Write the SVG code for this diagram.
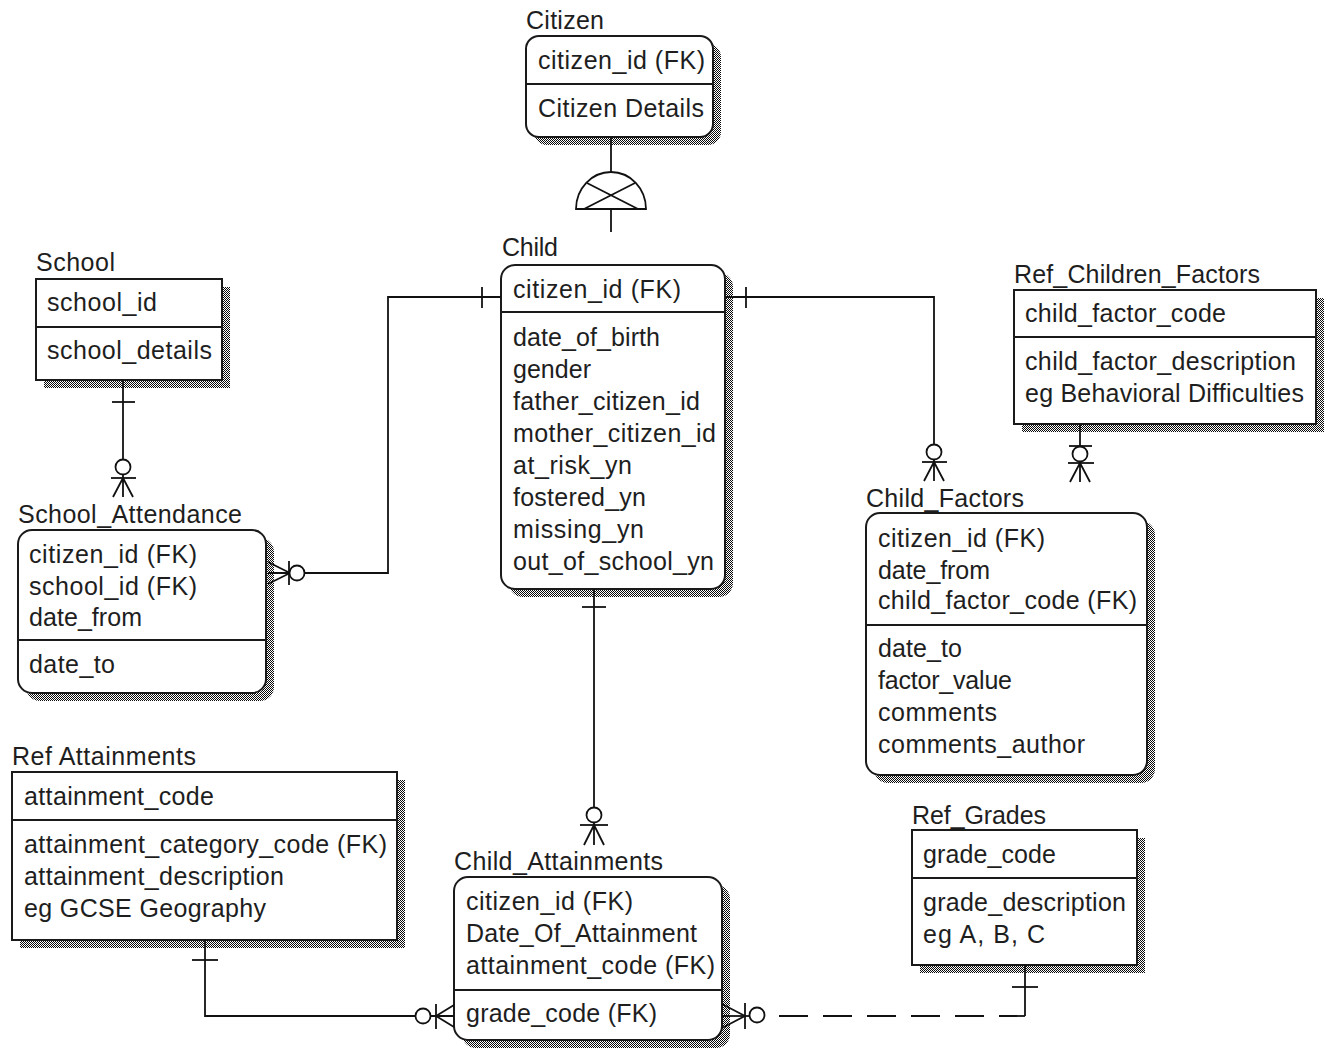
<svg xmlns="http://www.w3.org/2000/svg" width="1329" height="1050" viewBox="0 0 1329 1050">
<defs>
<pattern id="stip" width="2" height="2" patternUnits="userSpaceOnUse">
<rect width="2" height="2" fill="#ffffff"/>
<rect width="1" height="1" fill="#0a0a0a"/>
<rect x="1" y="1" width="1" height="1" fill="#0a0a0a"/>
</pattern>
<style>
.box{fill:#ffffff;stroke:#1a1a1a;stroke-width:2}
.sh{fill:url(#stip)}
.dv{stroke:#1a1a1a;stroke-width:2}
text{font-family:"Liberation Sans",Arial,sans-serif;font-size:25px;fill:#1e1e1e}
.ln{stroke:#111111;stroke-width:1.8;fill:none}
.ci{fill:#ffffff;stroke:#111111;stroke-width:1.8}
</style>
</defs>
<rect width="1329" height="1050" fill="#ffffff"/>

<g id="citizen">
<rect class="sh" x="534" y="44" width="187" height="101" rx="13"/>
<rect class="box" x="526" y="36" width="187" height="101" rx="13"/>
<line class="dv" x1="526" y1="84" x2="713" y2="84"/>
<text x="526" y="29" textLength="78">Citizen</text>
<text x="538" y="69" textLength="167">citizen_id (FK)</text>
<text x="538" y="117" textLength="166">Citizen Details</text>
</g>

<g id="child">
<rect class="sh" x="509" y="273" width="224" height="324" rx="14"/>
<rect class="box" x="501" y="265" width="224" height="324" rx="14"/>
<line class="dv" x1="501" y1="312" x2="725" y2="312"/>
<text x="502" y="256" textLength="56">Child</text>
<text x="513" y="298" textLength="168">citizen_id (FK)</text>
<text x="513" y="346" textLength="147">date_of_birth</text>
<text x="513" y="378" textLength="78">gender</text>
<text x="513" y="410" textLength="187">father_citizen_id</text>
<text x="513" y="442" textLength="203">mother_citizen_id</text>
<text x="513" y="474" textLength="119">at_risk_yn</text>
<text x="513" y="506" textLength="133">fostered_yn</text>
<text x="513" y="538" textLength="131">missing_yn</text>
<text x="513" y="570" textLength="201">out_of_school_yn</text>
</g>

<g id="school">
<rect class="sh" x="44" y="287" width="186" height="101"/>
<rect class="box" x="36" y="279" width="186" height="101"/>
<line class="dv" x1="36" y1="327" x2="222" y2="327"/>
<text x="36" y="271" textLength="79">School</text>
<text x="47" y="311" textLength="110">school_id</text>
<text x="47" y="359" textLength="165">school_details</text>
</g>

<g id="school_attendance">
<rect class="sh" x="26" y="538" width="248" height="163" rx="14"/>
<rect class="box" x="18" y="530" width="248" height="163" rx="14"/>
<line class="dv" x1="18" y1="640" x2="266" y2="640"/>
<text x="18" y="523" textLength="224">School_Attendance</text>
<text x="29" y="563" textLength="168">citizen_id (FK)</text>
<text x="29" y="595" textLength="168">school_id (FK)</text>
<text x="29" y="626" textLength="113">date_from</text>
<text x="29" y="673" textLength="86">date_to</text>
</g>

<g id="ref_children_factors">
<rect class="sh" x="1022" y="298" width="302" height="134"/>
<rect class="box" x="1014" y="290" width="302" height="134"/>
<line class="dv" x1="1014" y1="337" x2="1316" y2="337"/>
<text x="1014" y="283" textLength="246">Ref_Children_Factors</text>
<text x="1025" y="322" textLength="201">child_factor_code</text>
<text x="1025" y="370" textLength="271">child_factor_description</text>
<text x="1025" y="402" textLength="279">eg Behavioral Difficulties</text>
</g>

<g id="child_factors">
<rect class="sh" x="874" y="521" width="281" height="262" rx="14"/>
<rect class="box" x="866" y="513" width="281" height="262" rx="14"/>
<line class="dv" x1="866" y1="625" x2="1147" y2="625"/>
<text x="866" y="507" textLength="158">Child_Factors</text>
<text x="878" y="547" textLength="167">citizen_id (FK)</text>
<text x="878" y="579" textLength="112">date_from</text>
<text x="878" y="609" textLength="259">child_factor_code (FK)</text>
<text x="878" y="657" textLength="84">date_to</text>
<text x="878" y="689" textLength="134">factor_value</text>
<text x="878" y="721" textLength="119">comments</text>
<text x="878" y="753" textLength="207">comments_author</text>
</g>

<g id="ref_attainments">
<rect class="sh" x="20" y="780" width="385" height="168"/>
<rect class="box" x="12" y="772" width="385" height="168"/>
<line class="dv" x1="12" y1="820" x2="397" y2="820"/>
<text x="12" y="765" textLength="184">Ref Attainments</text>
<text x="24" y="805" textLength="190">attainment_code</text>
<text x="24" y="853" textLength="363">attainment_category_code (FK)</text>
<text x="24" y="885" textLength="260">attainment_description</text>
<text x="24" y="917" textLength="242">eg GCSE Geography</text>
</g>

<g id="child_attainments">
<rect class="sh" x="462" y="885" width="268" height="163" rx="14"/>
<rect class="box" x="454" y="877" width="268" height="163" rx="14"/>
<line class="dv" x1="454" y1="990" x2="722" y2="990"/>
<text x="454" y="870" textLength="209">Child_Attainments</text>
<text x="466" y="910" textLength="167">citizen_id (FK)</text>
<text x="466" y="942" textLength="231">Date_Of_Attainment</text>
<text x="466" y="974" textLength="249">attainment_code (FK)</text>
<text x="466" y="1022" textLength="191">grade_code (FK)</text>
</g>

<g id="ref_grades">
<rect class="sh" x="920" y="838" width="225" height="135"/>
<rect class="box" x="912" y="830" width="225" height="135"/>
<line class="dv" x1="912" y1="878" x2="1137" y2="878"/>
<text x="912" y="824" textLength="134">Ref_Grades</text>
<text x="923" y="863" textLength="133">grade_code</text>
<text x="923" y="911" textLength="203">grade_description</text>
<text x="923" y="943" textLength="122">eg A, B, C</text>
</g>

<g id="connectors">
<g class="ln">
<path d="M611 137V172"/>
<path d="M576 209A35 37 0 0 1 646 209Z"/>
<path d="M587 183L638 209M635 183L584 209"/>
<path d="M611 209V232"/>

<path d="M501 297H388V573H300"/>
<path d="M482 287V308"/>
<path d="M289 561V585"/>
<path d="M290 573L268 562M292 573H268M290 573L268 584"/>

<path d="M725 297H934V450"/>
<path d="M746 287V308"/>
<path d="M922 462H947"/>
<path d="M934 458V481M934 462L924 481M934 462L944 481"/>

<path d="M1080 424V450"/>
<path d="M1069 446H1092"/>
<path d="M1068 463H1094"/>
<path d="M1080 460V482M1080 463L1070 482M1080 463L1090 482"/>

<path d="M123 380V465"/>
<path d="M112 402H135"/>
<path d="M111 478H136"/>
<path d="M123 473V497M123 478L113 497M123 478L133 497"/>

<path d="M594 589V812"/>
<path d="M582 607H606"/>
<path d="M580 825H608"/>
<path d="M594 821V845M594 825L584 845M594 825L604 845"/>

<path d="M205 940V1016H420"/>
<path d="M192 960H218"/>
<path d="M436 1004V1029"/>
<path d="M429 1016H454M436 1016L454 1005M436 1016L454 1027"/>

<path d="M722 1016H751"/>
<path d="M745 1016L722 1004M745 1016L722 1028"/>
<path d="M745 1003V1029"/>
<path d="M779 1016H1025" stroke-dasharray="29 15"/>
<path d="M1025 1016V965"/>
<path d="M1012 987H1038"/>
</g>
<circle class="ci" cx="297" cy="573" r="7.5"/>
<circle class="ci" cx="934" cy="452" r="7.5"/>
<circle class="ci" cx="1080" cy="454" r="7.5"/>
<circle class="ci" cx="123" cy="467" r="7.5"/>
<circle class="ci" cx="594" cy="815" r="7.5"/>
<circle class="ci" cx="423" cy="1016" r="7.5"/>
<circle class="ci" cx="757" cy="1015" r="7.5"/>
</g>
</svg>
